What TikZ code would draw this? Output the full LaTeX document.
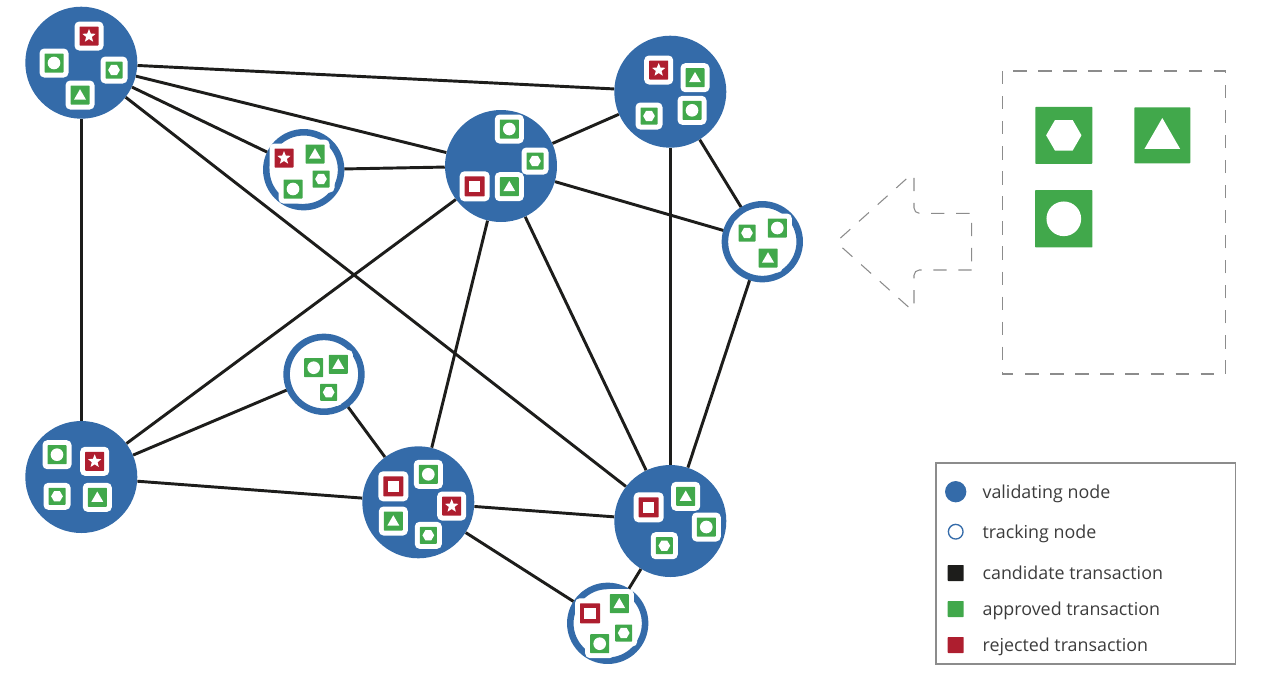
\documentclass[tikz,border=0pt]{standalone}
\usepackage{fontspec}
\setmainfont{Open Sans}
\usetikzlibrary{shapes.geometric}

\definecolor{nodeblue}{HTML}{346BA9}
\definecolor{txgreen}{HTML}{41A84B}
\definecolor{txred}{HTML}{AE1E2F}
\definecolor{txblack}{HTML}{1D1D1B}
\definecolor{framegray}{HTML}{8C8C8C}
\definecolor{labelgray}{HTML}{3C3C3C}

\tikzset{
  validating/.style={circle,fill=nodeblue,inner sep=0pt,minimum size=84pt},
  tracking/.style={circle,draw=nodeblue,fill=white,line width=4.9pt,inner sep=0pt,minimum size=56.1pt},
  link/.style={color=txblack,line width=2.2pt},
  halo/.style={rectangle,rounded corners=3.5pt,fill=white,inner sep=0pt,minimum size=#1},
  txbox/.style={rectangle,rounded corners=.5pt,inner sep=0pt,minimum size=#1},
  gcirc/.style={circle,fill=white,inner sep=0pt,minimum size=#1},
  gcirc/.default=9.5pt,
  ghex/.style={regular polygon,regular polygon sides=6,fill=white,inner sep=0pt,minimum size=#1},
  ghex/.default=8.8pt,
  gtri/.style={regular polygon,regular polygon sides=3,fill=white,inner sep=0pt,minimum size=#1,yshift=-0.08*#1},
  gtri/.default=10.3pt,
  gstar/.style={star,star points=5,star point ratio=2.3,fill=white,inner sep=0pt,minimum size=10.5pt},
  gsquare/.style={rectangle,fill=white,inner sep=0pt,minimum size=8.5pt},
  frame/.style={draw=framegray,line width=.8pt,dash pattern=on 10pt off 8.8pt},
  legendtext/.style={anchor=base west,inner sep=0pt,text=labelgray,font=\fontsize{13.4}{16}\selectfont},
  legendbox/.style={rectangle,inner sep=0pt,minimum size=12pt,rounded corners=.5pt},
}

% one transaction: name, position, colour, glyph; box size in px as option
\newcommand{\txn}[5][19]{
  \node[halo=0.75*(#1+10)*1pt] (#2h) at (#3) {};
  \node[txbox=0.75*#1*1pt,fill=#4] (#2b) at (#3) {};
  \node[#5] (#2g) at (#3) {};
}

\begin{document}
\begin{tikzpicture}[x=0.75pt,y=-0.75pt]
  \useasboundingbox (0,0) rectangle (1281,683);

  % validating nodes
  \node[validating] (A) at (81.3,62.7) {};
  \node[validating] (B) at (670.3,91.7) {};
  \node[validating] (C) at (501,166) {};
  \node[validating] (D) at (81.3,477) {};
  \node[validating] (E) at (418.3,502.3) {};
  \node[validating] (F) at (670.3,521) {};

  % tracking nodes
  \node[tracking] (G) at (303.7,169.7) {};
  \node[tracking] (H) at (762.3,241.7) {};
  \node[tracking] (I) at (324,374.3) {};
  \node[tracking] (J) at (607.7,623.3) {};

  \draw[link] (A) edge (B) edge (C) edge (D) edge (F) edge (G)
    (C) edge (B) edge (D) edge (E) edge (F) edge (G) edge (H)
    (B) edge (F) edge (H)
    (F) edge (H) edge (E) edge (J)
    (I) edge (D) edge (E)
    (E) edge (D) edge (J);

  \txn{A1}{89,36}{txred}{gstar}
  \txn{A2}{54,63}{txgreen}{gcirc}
  \txn[17]{A3}{114,70}{txgreen}{ghex}
  \txn{A4}{80,95}{txgreen}{gtri}

  \txn{B1}{658.7,70}{txred}{gstar}
  \txn{B2}{695,77.7}{txgreen}{gtri}
  \txn[17]{B3}{649,116}{txgreen}{ghex}
  \txn{B4}{692,110.3}{txgreen}{gcirc}

  \txn{C1}{509.3,129}{txgreen}{gcirc}
  \txn[17]{C2}{535,161}{txgreen}{ghex}
  \txn[20]{C3}{474.7,186.3}{txred}{gsquare}
  \txn{C4}{509.3,186.7}{txgreen}{gtri}

  \txn{D1}{57,454.7}{txgreen}{gcirc}
  \txn{D2}{94.7,461.3}{txred}{gstar}
  \txn[17]{D3}{57,496.3}{txgreen}{ghex}
  \txn{D4}{97.3,497.3}{txgreen}{gtri}

  \txn[20]{E1}{393.3,486.3}{txred}{gsquare}
  \txn{E2}{428.3,474.3}{txgreen}{gcirc}
  \txn{E3}{451.7,506}{txred}{gstar}
  \txn{E4}{393.3,521}{txgreen}{gtri}
  \txn[17]{E5}{428.3,535.3}{txgreen}{ghex}

  \txn[20]{F1}{648.7,507.3}{txred}{gsquare}
  \txn{F2}{685.7,496.3}{txgreen}{gtri}
  \txn{F3}{706.3,527}{txgreen}{gcirc}
  \txn[17]{F4}{664.3,545.7}{txgreen}{ghex}

  \txn{G1}{284,158}{txred}{gstar}
  \txn{G2}{315,154}{txgreen}{gtri}
  \txn[17]{G3}{321,179}{txgreen}{ghex}
  \txn{G4}{293,189}{txgreen}{gcirc}

  \txn[17]{H1}{747,233}{txgreen}{ghex}
  \txn{H2}{777.3,228}{txgreen}{gcirc}
  \txn{H3}{768,258}{txgreen}{gtri}

  \txn{I1}{313.7,367.7}{txgreen}{gcirc}
  \txn{I2}{338.3,364.3}{txgreen}{gtri}
  \txn[17]{I3}{328.7,392.3}{txgreen}{ghex}

  \txn[20]{J1}{590,613.3}{txred}{gsquare}
  \txn{J2}{619.3,603.7}{txgreen}{gtri}
  \txn[17]{J3}{623.7,633}{txgreen}{ghex}
  \txn{J4}{599.7,643.7}{txgreen}{gcirc}

  % dashed arrow and pool
  \draw[frame,rounded corners=4pt] (971.7,270) -- (914,270) -- (914,312) -- (836,242) -- (914,172) -- (914,213.3) [sharp corners] -- (971.7,213.3) -- cycle;
  \draw[frame] (1002.3,71) rectangle (1225.3,374);

  \node[txbox=42.75pt,fill=txgreen] (P1) at (1063.8,135.3) {};
  \node[ghex=26.5pt] (P1g) at (P1) {};
  \node[txbox=42pt,fill=txgreen] (P2) at (1162.3,135.3) {};
  \node[gtri=30.9pt] (P2g) at (P2) {};
  \node[txbox=43pt,fill=txgreen] (P3) at (1063.8,218.8) {};
  \node[gcirc=26pt] (P3g) at (P3) {};

  % legend
  \draw[draw=framegray,line width=.8pt] (936,463) rectangle (1235.7,664);
  \node[validating,minimum size=16pt] (L1) at (955.7,491.7) {};
  \node[tracking,line width=1pt,minimum size=11pt] (L2) at (955.7,531.7) {};
  \node[legendbox,fill=txblack] (L3) at (955.7,573) {};
  \node[legendbox,fill=txgreen] (L4) at (955.7,609) {};
  \node[legendbox,fill=txred] (L5) at (955.7,645) {};
  \node[legendtext] (T1) at (982.3,498) {validating node};
  \node[legendtext] (T2) at (982.3,538) {tracking node};
  \node[legendtext] (T3) at (982.3,579) {candidate transaction};
  \node[legendtext] (T4) at (982.3,615) {approved transaction};
  \node[legendtext] (T5) at (982.3,651) {rejected transaction};
\end{tikzpicture}
\end{document}
